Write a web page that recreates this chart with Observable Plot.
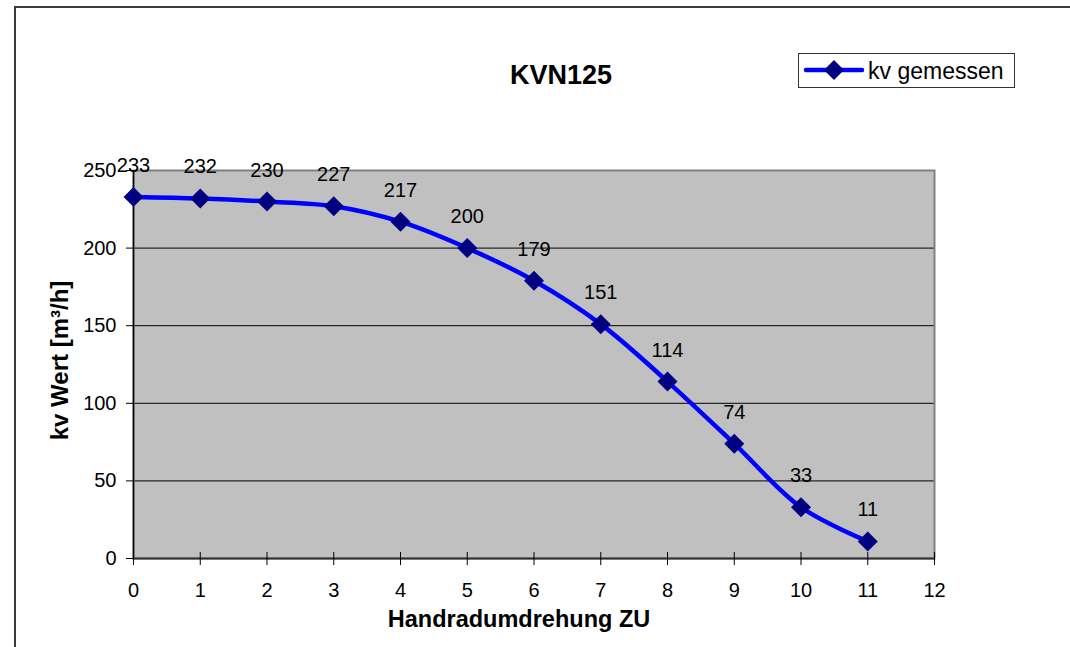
<!DOCTYPE html>
<html>
<head>
<meta charset="utf-8">
<script src="https://cdn.jsdelivr.net/npm/d3@7"></script>
<script src="https://cdn.jsdelivr.net/npm/@observablehq/plot@0.6"></script>
<style>
  html, body { margin: 0; padding: 0; background: #fff; overflow: hidden; }
  body { width: 1070px; height: 647px; position: relative; font-family: "Liberation Sans", Arial, sans-serif; }
  #outer { position: absolute; left: 14px; top: 6px; width: 1100px; height: 700px; border-left: 2px solid #3a3a3a; border-top: 2px solid #3a3a3a; box-sizing: border-box; }
  #chart { position: absolute; left: 0; top: 0; }
  #legend { position: absolute; left: 798px; top: 53px; width: 217px; height: 35px; border: 1.5px solid #333; box-sizing: border-box; background: #fff; }
  #legend svg { position: absolute; left: 0; top: 0; }
</style>
</head>
<body>
<div id="outer"></div>
<div id="chart"></div>
<div id="legend"></div>
<script>
const turns = [0, 1, 2, 3, 4, 5, 6, 7, 8, 9, 10, 11];
const kvValues = [233, 232, 230, 227, 217, 200, 179, 151, 114, 74, 33, 11];
const xTicks = [0, 1, 2, 3, 4, 5, 6, 7, 8, 9, 10, 11, 12];
const yTicks = [0, 50, 100, 150, 200, 250];
const gridValues = [50, 100, 150, 200];
const title = "KVN125";
const xLabel = "Handradumdrehung ZU";
const yLabel = "kv Wert [m³/h]";
const seriesName = "kv gemessen";

const data = turns.map((t, i) => ({turn: t, kv: kvValues[i]}));

const plot = Plot.plot({
  width: 1070,
  height: 647,
  marginLeft: 133,
  marginRight: 136,
  marginTop: 170,
  marginBottom: 89,
  style: {fontFamily: '"Liberation Sans", Arial, sans-serif', fontSize: "20px", color: "#000", background: "transparent"},
  x: {domain: [0, 12]},
  y: {domain: [0, 250]},
  marks: [
    Plot.frame({fill: "#C0C0C0"}),
    Plot.gridY(gridValues, {stroke: "#000", strokeOpacity: 1, strokeWidth: 1}),
    Plot.frame({stroke: "#808080", strokeWidth: 2}),
    Plot.ruleX([0], {stroke: "#000", strokeWidth: 1.5}),
    Plot.ruleY([0], {stroke: "#333", strokeWidth: 2}),
    Plot.axisY({ticks: yTicks, tickSize: 7, tickPadding: 10, label: null, fontSize: 20, stroke: "#000"}),
    Plot.axisX({ticks: xTicks, tickSize: 13, dy: -6, tickPadding: 17, label: null, fontSize: 20, stroke: "#000"}),
    Plot.line(data, {x: "turn", y: "kv", stroke: "#0000FF", strokeWidth: 4.5, curve: "catmull-rom"}),
    Plot.dot(data, {x: "turn", y: "kv", symbol: "diamond2", r: 9, fill: "#000080", stroke: "none"}),
    Plot.text(data, {x: "turn", y: "kv", text: d => String(d.kv), dy: -25, lineAnchor: "bottom", fontSize: 20, fill: "#000"}),
    Plot.text([xLabel], {frameAnchor: "bottom", textAnchor: "middle", dx: -15, dy: 68, lineAnchor: "bottom", fontSize: 23.5, fontWeight: "bold", fill: "#000"}),
    Plot.text([yLabel], {frameAnchor: "left", textAnchor: "middle", rotate: -90, dx: -73, dy: -4, lineAnchor: "middle", fontSize: 24, fontWeight: "bold", fill: "#000"}),
    Plot.text([title], {frameAnchor: "top", textAnchor: "middle", dx: 27, dy: -87, lineAnchor: "bottom", fontSize: 27, fontWeight: "bold", fill: "#000"})
  ]
});
document.getElementById("chart").appendChild(plot);

// Legend
const leg = d3.select("#legend").append("svg").attr("width", 217).attr("height", 35);
leg.append("line").attr("x1", 7).attr("x2", 63).attr("y1", 16).attr("y2", 16)
  .attr("stroke", "#0000FF").attr("stroke-width", 4.5).attr("stroke-linecap", "round");
leg.append("path").attr("d", d3.symbol(d3.symbolDiamond2, Math.PI * 81)()).attr("transform", "translate(35,16)").attr("fill", "#000080");
leg.append("text").attr("x", 69).attr("y", 25).attr("font-size", 23)
  .attr("font-family", '"Liberation Sans", Arial, sans-serif').attr("fill", "#000").text(seriesName);
</script>
</body>
</html>
